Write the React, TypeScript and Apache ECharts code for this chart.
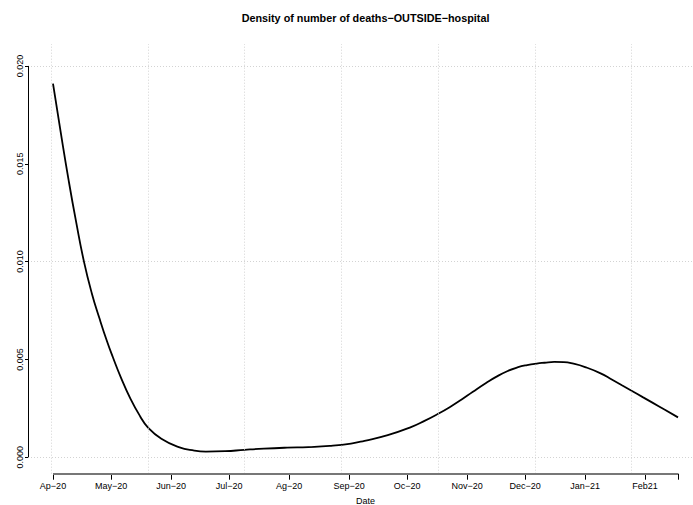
import React, { useEffect, useRef } from "react";
import * as echarts from "echarts";

const FONT = "'Liberation Sans', Arial, Helvetica, sans-serif";
const TITLE = "Density of number of deaths\u2212OUTSIDE\u2212hospital";

// Day index (1 = 1 Apr 2020) and kernel density estimate at that day
const dayIdx = [
  1, 5, 9, 13, 17, 21, 25, 29, 32, 36, 41, 46, 50, 57, 66, 74, 80, 90, 100, 110, 122, 133, 144, 155, 162, 174, 186,
  193, 200, 206, 212, 218, 225, 230, 236, 241, 246, 251, 255, 260, 265, 270, 276, 284, 290, 295, 300, 306, 311,
  317, 324,
];
const density = [
  0.0191, 0.0166, 0.0142, 0.012, 0.01, 0.0084, 0.0071, 0.0059, 0.0051, 0.0041, 0.003, 0.0021, 0.00153, 0.00095,
  0.00052, 0.00034, 0.00029, 0.00031, 0.00038, 0.00044, 0.00049, 0.00052, 0.00058, 0.0007, 0.00084, 0.00113,
  0.00154, 0.00186, 0.00222, 0.00256, 0.00294, 0.00335, 0.00381, 0.00411, 0.00441, 0.00459, 0.00471, 0.00479,
  0.00483, 0.00487, 0.00486, 0.00478, 0.00461, 0.00429, 0.00396, 0.00368, 0.0034, 0.00306, 0.00278, 0.00244,
  0.00204,
];

// Month labels on the date axis and the day index where each month starts
const monthLabels = ["Ap\u221220", "May\u221220", "Jun\u221220", "Jul\u221220", "Ag\u221220", "Sep\u221220", "Oc\u221220", "Nov\u221220", "Dec\u221220", "Jan\u221221", "Feb21"];
const monthStart = [1, 31, 62, 92, 123, 154, 184, 215, 245, 276, 307];
const lastDay = 324;

const yTicks = [0, 0.005, 0.01, 0.015, 0.02];
const xGrid = [0, 50, 100, 150, 200, 250, 300];

// Plot ranges padded by 4% like base graphics
const xSpan = lastDay - 1;
const xMin = 1 - 0.04 * xSpan;
const xMax = lastDay + 0.04 * xSpan;
const yMin = -0.00084;
const yMax = 0.02112;

export default function App() {
  const ref = useRef<HTMLDivElement>(null);

  useEffect(() => {
    const chart = echarts.init(ref.current!, null, { renderer: "svg" });
    const gridStyle = { color: "#d3d3d3", width: 1, type: [1, 2] as any };

    chart.setOption({
      animation: false,
      textStyle: { fontFamily: FONT },
      graphic: [
        {
          type: "text",
          x: 365.5,
          y: 18,
          silent: true,
          style: {
            text: TITLE,
            font: `bold 10.8px ${FONT}`,
            fill: "#000",
            align: "center",
            verticalAlign: "middle",
          },
        },
      ],
      grid: { left: 28, top: 44, width: 675, height: 429.7, containLabel: false, outerBoundsMode: "none" },
      xAxis: {
        type: "value",
        min: xMin,
        max: xMax,
        axisLine: { show: false, onZero: false },
        splitLine: { show: false },
        axisTick: {
          show: true,
          customValues: [...monthStart, lastDay],
          length: 6,
          lineStyle: { color: "#000", width: 1 },
        },
        axisLabel: {
          customValues: monthStart,
          formatter: (v: number) => monthLabels[monthStart.indexOf(v)] ?? "",
          fontSize: 9,
          color: "#000",
          margin: 8,
          fontFamily: FONT,
        },
        name: "Date",
        nameLocation: "middle",
        nameGap: 22.5,
        nameTextStyle: { fontSize: 9, color: "#000", fontFamily: FONT },
      },
      yAxis: {
        type: "value",
        min: yMin,
        max: yMax,
        axisLine: { show: false, onZero: false },
        splitLine: { show: false },
        axisTick: {
          show: true,
          customValues: yTicks,
          length: 3,
          lineStyle: { color: "#000", width: 1 },
        },
        axisLabel: {
          customValues: yTicks,
          rotate: 90,
          formatter: (v: number) => v.toFixed(3),
          fontSize: 9,
          color: "#000",
          margin: 4,
          fontFamily: FONT,
        },
      },
      series: [
        {
          type: "line",
          data: dayIdx.map((d, i) => [d, density[i]]),
          smooth: 0.5,
          symbol: "none",
          showSymbol: false,
          clip: false,
          silent: true,
          lineStyle: { color: "#000", width: 1.8 },
          markLine: {
            silent: true,
            symbol: ["none", "none"],
            label: { show: false },
            emphasis: { disabled: true },
            data: [
              ...yTicks.map((v) => ({ yAxis: v, lineStyle: gridStyle })),
              ...xGrid.map((v) => ({ xAxis: v, lineStyle: gridStyle })),
              [
                { coord: [xMin, 0], lineStyle: { color: "#000", width: 1, type: "solid" } },
                { coord: [xMin, 0.02] },
              ],
              [
                { coord: [1, yMin], lineStyle: { color: "#777", width: 2, type: "solid" } },
                { coord: [lastDay, yMin] },
              ],
            ],
          },
        },
      ],
    });

    return () => chart.dispose();
  }, []);

  return <div ref={ref} style={{ position: "absolute", left: 0, top: 0, width: 693, height: 505 }} />;
}
